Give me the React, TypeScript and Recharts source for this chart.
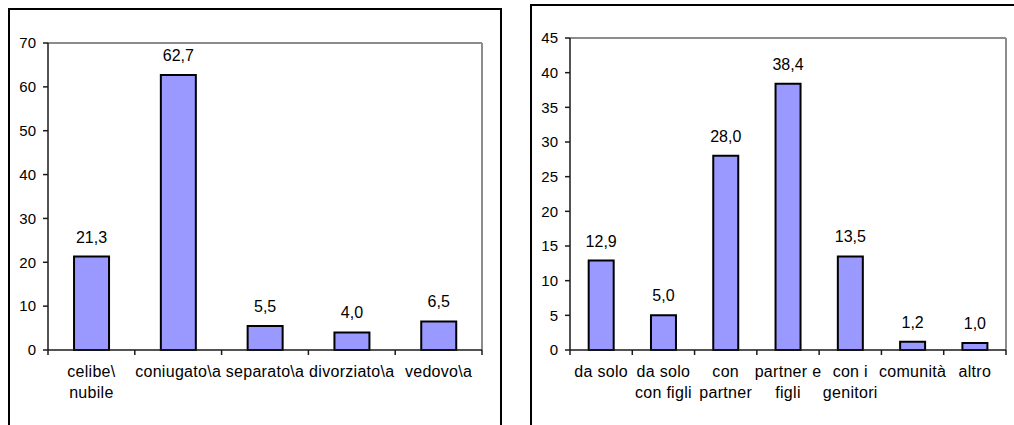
import React from "react";
import { BarChart, Bar, XAxis, YAxis, LabelList, ReferenceLine } from "recharts";

// stato civile
const statoCategories = ["celibe\\\nnubile", "coniugato\\a", "separato\\a", "divorziato\\a", "vedovo\\a"];
const statoValues = [21.3, 62.7, 5.5, 4.0, 6.5];
const statoTicks = [0, 10, 20, 30, 40, 50, 60, 70];

// con chi vive
const viveCategories = ["da solo", "da solo\ncon figli", "con\npartner", "partner e\nfigli", "con i\ngenitori", "comunità", "altro"];
const viveValues = [12.9, 5.0, 28.0, 38.4, 13.5, 1.2, 1.0];
const viveTicks = [0, 5, 10, 15, 20, 25, 30, 35, 40, 45];

const FONT = "'Liberation Sans', Arial, sans-serif";
const AXIS = "#1a1a1a";
const FRAME = "#8c8c8c";

// label on several lines plus the tick marks at the category edges
const MultiLineTick = (props: any) => {
  const { x, y, payload, index, visibleTicksCount } = props;
  const half = payload.offset || 0;
  const lines = String(payload.value).split("\n");
  const last = index === visibleTicksCount - 1;
  return (
    <g>
      <line x1={x - half} x2={x - half} y1={y} y2={y + 5} stroke={AXIS} strokeWidth={1.5} />
      {last && <line x1={x + half} x2={x + half} y1={y} y2={y + 5} stroke={AXIS} strokeWidth={1.5} />}
      <text x={x} y={y} textAnchor="middle" fill="#000" fontSize={16} letterSpacing={0.3} fontFamily={FONT}>
        {lines.map((l, i) => (
          <tspan key={i} x={x} dy={i === 0 ? 27 : 21}>
            {l}
          </tspan>
        ))}
      </text>
    </g>
  );
};

interface PanelProps {
  categories: string[];
  values: number[];
  ticks: number[];
  width: number;
  height: number;
  margin: { top: number; right: number; bottom: number; left: number };
}

const Panel: React.FC<PanelProps> = ({ categories, values, ticks, width, height, margin }) => {
  const data = categories.map((c, i) => ({ name: c, value: values[i] }));
  const max = ticks[ticks.length - 1];
  return (
    <BarChart width={width} height={height} data={data} margin={margin} barCategoryGap="30%">
      <XAxis
        dataKey="name"
        interval={0}
        axisLine={{ stroke: AXIS, strokeWidth: 1.5 }}
        tickLine={false}
        tickSize={0}
        tickMargin={0}
        height={75 - margin.bottom}
        tick={<MultiLineTick />}
      />
      <YAxis
        domain={[0, max]}
        ticks={ticks}
        interval={0}
        width={40}
        tickSize={5}
        tickMargin={7}
        axisLine={{ stroke: AXIS, strokeWidth: 1.5 }}
        tickLine={{ stroke: AXIS, strokeWidth: 1.5 }}
        tick={{ fill: "#000", fontSize: 15, fontFamily: FONT }}
      />
      <ReferenceLine y={max} stroke={FRAME} strokeWidth={2} />
      <ReferenceLine
        x={categories[categories.length - 1]}
        position="end"
        stroke={FRAME}
        strokeWidth={2}
      />
      <Bar dataKey="value" fill="#9999FF" stroke="#000" strokeWidth={2} isAnimationActive={false}>
        <LabelList
          dataKey="value"
          position="top"
          offset={14}
          fill="#000"
          fontSize={16}
          fontFamily={FONT}
          formatter={(v: any) => Number(v).toFixed(1).replace(".", ",")}
        />
      </Bar>
    </BarChart>
  );
};

export default function App() {
  return (
    <div
      style={{
        position: "absolute",
        left: 0,
        top: 0,
        width: 1014,
        height: 425,
        overflow: "hidden",
        background: "#fff",
        fontFamily: FONT,
      }}
    >
      <div
        style={{
          position: "absolute",
          left: 8,
          top: 8,
          width: 490,
          height: 440,
          border: "2px solid #000",
        }}
      />
      <div
        style={{
          position: "absolute",
          left: 530,
          top: 4,
          width: 500,
          height: 440,
          border: "2px solid #000",
        }}
      />
      <div style={{ position: "absolute", left: 0, top: 0 }}>
        <Panel
          categories={statoCategories}
          values={statoValues}
          ticks={statoTicks}
          width={500}
          height={425}
          margin={{ top: 43, right: 18, bottom: 30, left: 8 }}
        />
      </div>
      <div style={{ position: "absolute", left: 500, top: 0 }}>
        <Panel
          categories={viveCategories}
          values={viveValues}
          ticks={viveTicks}
          width={514}
          height={425}
          margin={{ top: 38, right: 8, bottom: 32, left: 30 }}
        />
      </div>
    </div>
  );
}
